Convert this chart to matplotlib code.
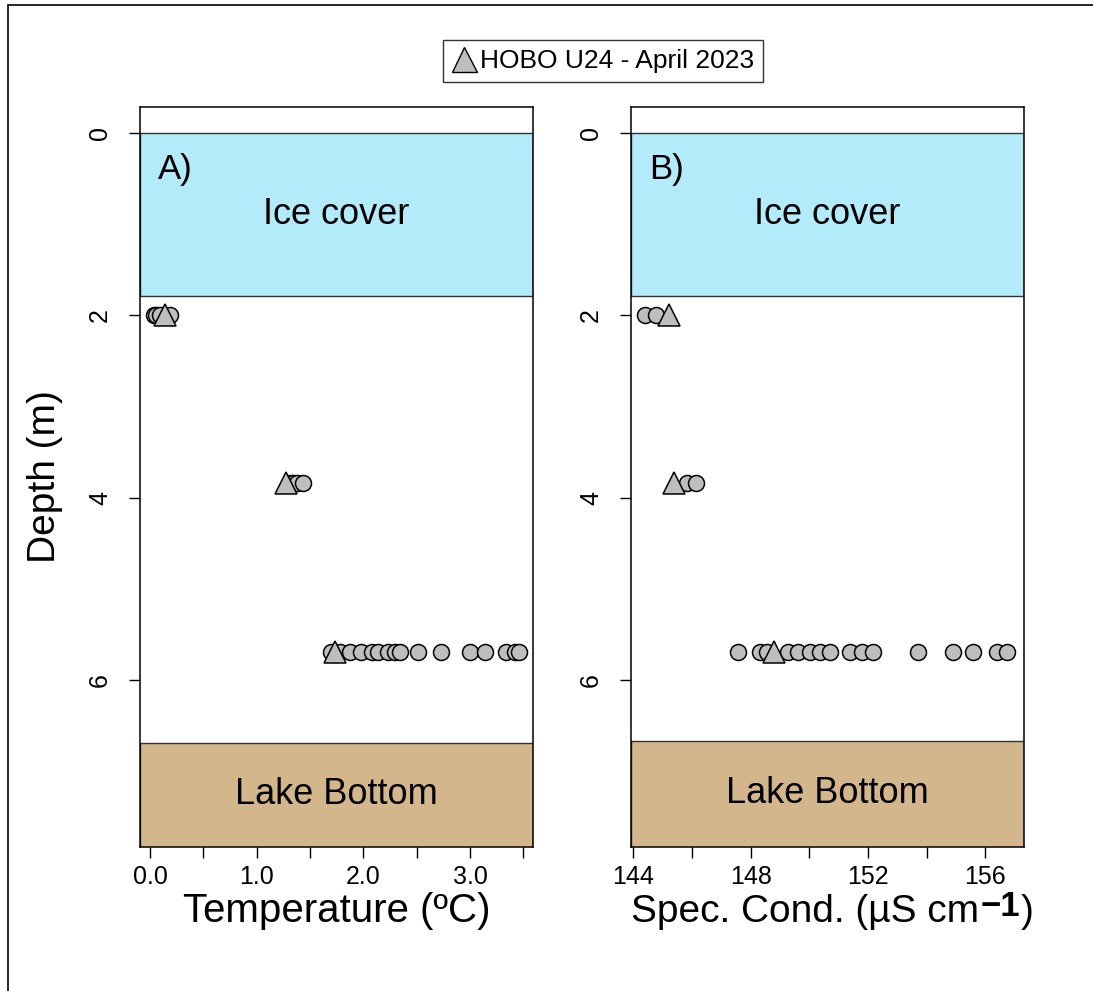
import matplotlib
matplotlib.use('Agg')
import matplotlib.pyplot as plt
from matplotlib.patches import Rectangle
from matplotlib.lines import Line2D

plt.rcParams['font.family'] = ['Liberation Sans', 'DejaVu Sans']

# ---------------- data ----------------
depth_levels = [2.0, 3.84, 5.69]

temp_profile_2m = [0.04, 0.06, 0.09, 0.19]
temp_profile_38m = [1.31, 1.34, 1.38, 1.43]
temp_profile_57m = [1.70, 1.78, 1.87, 1.98, 2.08, 2.14, 2.23, 2.30, 2.34,
                    2.51, 2.73, 3.00, 3.14, 3.34, 3.42, 3.46]
hobo_temp = [0.14, 1.27, 1.73]

cond_profile_2m = [144.40, 144.78]
cond_profile_38m = [145.82, 146.14]
cond_profile_57m = [147.58, 148.32, 148.55, 149.29, 149.63, 150.02, 150.37,
                    150.71, 151.39, 151.79, 152.18, 153.72, 154.91, 155.59,
                    156.39, 156.73]
hobo_cond = [145.23, 145.40, 148.80]

ice_depth = [1.786, 1.786]
bottom_depth = [6.69, 6.67]

temp_ticks = [0.0, 0.5, 1.0, 1.5, 2.0, 2.5, 3.0, 3.5]
temp_ticklabels = ['0.0', '', '1.0', '', '2.0', '', '3.0', '']
cond_ticks = [144, 146, 148, 150, 152, 154, 156]
cond_ticklabels = ['144', '', '148', '', '152', '', '156']
depth_ticks = [0, 2, 4, 6]

panel_labels = ['A)', 'B)']
legend_label = 'HOBO U24 - April 2023'

# ---------------- styling ----------------
W, H = 1093, 991
fig = plt.figure(figsize=(W / 100, H / 100), dpi=100)

ice_color = '#b3ebfa'
bottom_color = '#d4b68c'
pt_color = '#bebebe'

# figure border (left + top visible)
fig.patches.append(Rectangle((8 / W, -0.05), 1.1, 1 - 5 / H + 0.05,
                             transform=fig.transFigure, fill=False,
                             edgecolor='black', linewidth=1.2))

axA = fig.add_axes([140 / W, 1 - 846.7 / H, 393 / W, 740 / H])
axB = fig.add_axes([631 / W, 1 - 846.7 / H, 393 / W, 740 / H])

ylim = (7.83, -0.29)


def draw_panel(ax, rows, hobo, xlim, ticks, ticklabels, ice, bot, label):
    ax.set_xlim(*xlim)
    ax.set_ylim(*ylim)
    ax.axhspan(0, ice, facecolor=ice_color, edgecolor='#333333',
               linewidth=1.0, zorder=1)
    ax.axhspan(bot, 9, facecolor=bottom_color, edgecolor='#333333',
               linewidth=1.0, zorder=1)
    for d, vals in zip(depth_levels, rows):
        ax.plot(vals, [d] * len(vals), ls='none', marker='o', ms=11.5,
                mfc=pt_color, mec='black', mew=1.1, zorder=3)
    ax.plot(hobo, depth_levels, ls='none', marker='^', ms=16,
            mfc=pt_color, mec='black', mew=1.1, zorder=4)
    ax.set_xticks(ticks)
    ax.set_xticklabels(ticklabels)
    ax.set_yticks(depth_ticks)
    ax.set_yticklabels([str(t) for t in depth_ticks], rotation=90,
                       va='center')
    ax.tick_params(axis='both', direction='out', length=8, width=1.0,
                   labelsize=18, color='black')
    ax.tick_params(axis='x', pad=5)
    ax.tick_params(axis='y', pad=12)
    for s in ax.spines.values():
        s.set_linewidth(1.1)
        s.set_color('black')
    x0, x1 = xlim
    ax.text(x0 + 0.046 * (x1 - x0), 0.40, label, fontsize=25,
            ha='left', va='center', zorder=5)
    ax.text((x0 + x1) / 2, ice / 2, 'Ice cover', fontsize=26,
            ha='center', va='center', zorder=5)
    ax.text((x0 + x1) / 2, (bot + ylim[0]) / 2, 'Lake Bottom', fontsize=26,
            ha='center', va='center', zorder=5)


draw_panel(axA, [temp_profile_2m, temp_profile_38m, temp_profile_57m],
           hobo_temp, (-0.094, 3.59), temp_ticks, temp_ticklabels,
           ice_depth[0], bottom_depth[0], panel_labels[0])
draw_panel(axB, [cond_profile_2m, cond_profile_38m, cond_profile_57m],
           hobo_cond, (143.92, 157.32), cond_ticks, cond_ticklabels,
           ice_depth[1], bottom_depth[1], panel_labels[1])

fig.text(45 / W, 1 - 477 / H, 'Depth (m)', rotation=90, fontsize=28,
         ha='center', va='center')

baseline_px = 922
fig.text(336.5 / W, 1 - baseline_px / H, 'Temperature (ºC)', fontsize=29,
         ha='center', va='baseline')

# Spec. Cond. label built from pieces (large superscript as in the reference)
renderer = fig.canvas.get_renderer()
parts = [('Spec. Cond. (µS cm', 28, 0, 'normal', 2),
         ('\u22121', 25, 6, 'bold', 0),
         (')', 28, 0, 'normal', 0)]
tmp = []
widths = []
for txt, fs, dy, fw, gap in parts:
    t = fig.text(0, 0, txt, fontsize=fs, fontweight=fw, va='baseline')
    bb = t.get_window_extent(renderer=renderer)
    widths.append(bb.width + gap)
    tmp.append(t)
total = sum(widths)
x_start = 832 - total / 2
for t, w, (txt, fs, dy, fw, gap) in zip(tmp, widths, parts):
    t.set_position((x_start / W, 1 - (baseline_px - dy) / H))
    x_start += w

handle = Line2D([], [], ls='none', marker='^', ms=18, mfc=pt_color,
                mec='black', mew=1.0)
leg = fig.legend(handles=[handle], labels=[legend_label], loc='center',
                 bbox_to_anchor=(603 / W, 1 - 61 / H), fontsize=19,
                 frameon=True, fancybox=False, edgecolor='#333333',
                 framealpha=1, handlelength=0.9, handletextpad=0.15,
                 borderpad=0.35, borderaxespad=0)
leg.get_frame().set_linewidth(1.0)

fig.savefig('out.png', dpi=100)
